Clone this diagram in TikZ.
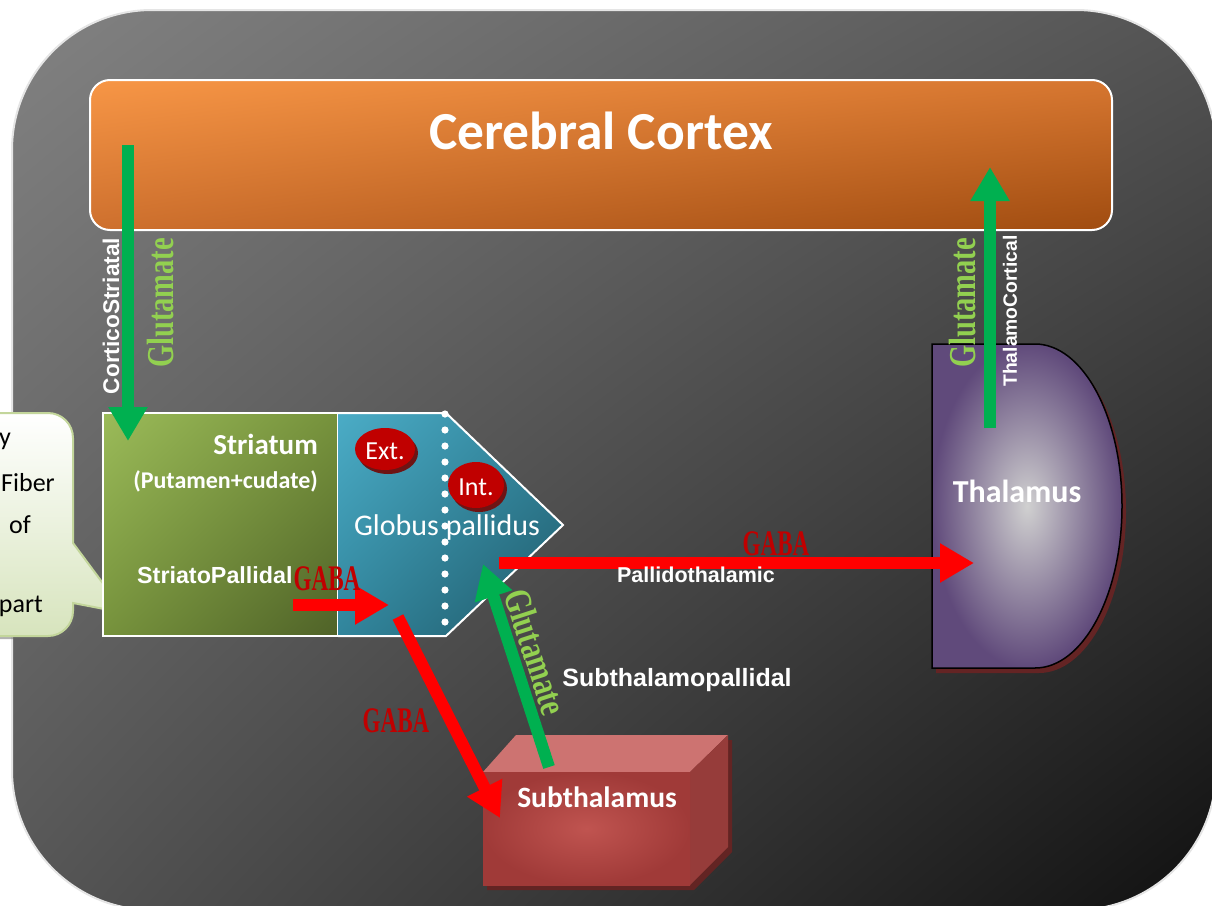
\documentclass[tikz,border=0pt]{standalone}
\usepackage{fontspec}
\setmainfont{Carlito}
\newfontfamily\arialfont{Liberation Sans}
\newfontfamily\timesfont{Liberation Serif}
\usetikzlibrary{arrows.meta,shadings}

\definecolor{glugreen}{HTML}{00B050}
\definecolor{glutext}{HTML}{92D050}
\definecolor{gabared}{HTML}{C00000}
\definecolor{arrred}{HTML}{FF0000}
\definecolor{bgA}{HTML}{828282}
\definecolor{bgB}{HTML}{545454}
\definecolor{bgC}{HTML}{565656}
\definecolor{bgD}{HTML}{101010}
\definecolor{ctxA}{HTML}{F79646}
\definecolor{ctxB}{HTML}{D67630}
\definecolor{ctxC}{HTML}{CE702E}
\definecolor{ctxD}{HTML}{A04C10}
\definecolor{strA}{HTML}{9BBB59}
\definecolor{strB}{HTML}{76923C}
\definecolor{strC}{HTML}{4F6228}
\definecolor{gpA}{HTML}{4BACC6}
\definecolor{gpB}{HTML}{31859C}
\definecolor{gpC}{HTML}{205867}
\definecolor{ovalshadow}{HTML}{6E1414}
\definecolor{thalshadow}{HTML}{642424}
\definecolor{thalin}{HTML}{D0D0D0}
\definecolor{thalout}{HTML}{604A7B}
\definecolor{stnshadow}{HTML}{632423}
\definecolor{stntop}{HTML}{CD7371}
\definecolor{stnside}{HTML}{963C3A}
\definecolor{stnin}{HTML}{C05450}
\definecolor{stnout}{HTML}{A03A38}
\definecolor{bubbleA}{HTML}{D7E4BD}
\definecolor{bubbleB}{HTML}{C3D69B}

\newcommand{\gabaword}{{\timesfont\bfseries\fontsize{36}{36}\selectfont\scalebox{0.64}[1]{GABA}}}
\newcommand{\gluword}{{\timesfont\bfseries\fontsize{38}{38}\selectfont\scalebox{0.75}[1]{Glutamate}}}

\begin{document}
\begin{tikzpicture}[x=1pt,y=-1pt,
    fat/.style={line width=12pt,-{Triangle[length=34pt,width=37pt]}},
    glu/.style={fat,draw=glugreen},
    inhib/.style={fat,draw=arrred},
    gabalbl/.style={text=gabared,inner sep=0pt},
    glulbl/.style={text=glutext,inner sep=0pt},
    tract/.style={text=white,inner sep=0pt,font=\arialfont\bfseries\fontsize{#1}{#1}\selectfont},
    region/.style={text=white,inner sep=0pt,font=\bfseries\fontsize{#1}{#1}\selectfont}]

    \useasboundingbox (0,0) rectangle (1212,905);
    \clip (0,0) rectangle (1212,905);

    % background panel
    \shade[upper left=bgA,upper right=bgB,lower left=bgC,lower right=bgD,rounded corners=140pt]
        (12,10) rectangle (1216,910);
    \draw[black!10,line width=2pt,rounded corners=140pt] (12,10) rectangle (1216,910);

    % cortex
    \shade[upper left=ctxA,upper right=ctxB,lower left=ctxC,lower right=ctxD,rounded corners=20pt]
        (90,80) rectangle (1112,230);
    \draw[white,line width=2pt,rounded corners=20pt] (90,80) rectangle (1112,230);
    \node[region=53.5] (cortex) at (601,131) {Cerebral Cortex};

    % callout
    \fill[black!60,opacity=0.5] (-27,416) -- (48,416) to[out=0,in=90] (76,441) -- (76,546) -- (128,616)
        -- (76,606) -- (76,614) to[out=-90,in=0] (51,639) -- (-27,639) -- cycle;
    \shade[top color=white,bottom color=bubbleA,draw=bubbleB,line width=2pt]
        (-30,413) -- (48,413) to[out=0,in=90] (73,438) -- (73,543) -- (125,613)
        -- (73,603) -- (73,611) to[out=-90,in=0] (48,636) -- (-30,636) -- cycle;
    \node[anchor=east,inner sep=0pt,font=\fontsize{26}{26}\selectfont] (c1) at (11,441) {y};
    \node[anchor=east,inner sep=0pt,font=\fontsize{26}{26}\selectfont] (c2) at (55,483) {Fiber};
    \node[anchor=east,inner sep=0pt,font=\fontsize{26}{26}\selectfont] (c3) at (31,525) {of};
    \node[anchor=east,inner sep=0pt,font=\fontsize{26}{26}\selectfont] (c4) at (43,606) {part};

    % striatum
    \shade[upper left=strA,upper right=strB,lower left=strB,lower right=strC]
        (103,413) rectangle (338,636);
    \draw[white,line width=2pt] (103,413) rectangle (338,636);
    \node[region=29,anchor=east] (str) at (318,444) {Striatum};
    \node[region=24,anchor=east] (put) at (318,481) {(Putamen+cudate)};

    % globus pallidus
    \shade[upper left=gpA,upper right=gpB,lower left=gpB,lower right=gpC]
        (338,413) -- (446,413) -- (563,525) -- (446,636) -- (338,636) -- cycle;
    \draw[white,line width=2pt] (338,413) -- (446,413) -- (563,525) -- (446,636) -- (338,636);
    \foreach \k in {0,...,13}
        \fill[white] (445,414+16*\k) circle (3.6pt);
    \fill[ovalshadow] (388,453) ellipse [x radius=30pt,y radius=21pt];
    \fill[gabared] (385,449) ellipse [x radius=30pt,y radius=21pt];
    \node[text=white,font=\fontsize{26}{26}\selectfont] (ext) at (385,451) {Ext.};
    \fill[ovalshadow] (479,489) ellipse [x radius=28pt,y radius=23pt];
    \fill[gabared] (476,485) ellipse [x radius=28pt,y radius=23pt];
    \node[text=white,font=\fontsize{26}{26}\selectfont] (int) at (476,487) {Int.};
    \node[text=white,inner sep=0pt,font=\fontsize{30}{30}\selectfont] (gp) at (447,527) {Globus\hspace{7pt}pallidus};

    % thalamus
    \fill[thalshadow] (936,349) -- (1039,349) .. controls (1087,349) and (1126,422) .. (1126,511)
        .. controls (1126,600) and (1087,673) .. (1039,673) -- (936,673) -- cycle;
    \shade[inner color=thalin,outer color=thalout,draw=black,line width=1.5pt]
        (932,344) -- (1035,344) .. controls (1083,344) and (1122,417) .. (1122,506)
        .. controls (1122,595) and (1083,668) .. (1035,668) -- (932,668) -- cycle;
    \node[region=32] (thal) at (1017,491) {Thalamus};

    % subthalamus
    \fill[stnshadow] (487,777) -- (520,740) -- (732,740) -- (732,852) -- (694,890) -- (487,890) -- cycle;
    \fill[stntop] (483,772) -- (516,735) -- (728,735) -- (690,772) -- cycle;
    \fill[stnside] (690,772) -- (728,735) -- (728,847) -- (690,885) -- cycle;
    \shade[inner color=stnin,outer color=stnout]
        (483,772) rectangle (690,885);
    \node[region=29.5] (sub) at (597,797) {Subthalamus};

    % arrow ends
    \coordinate (cs1) at (128,145);
    \coordinate (cs2) at (128,441);
    \coordinate (tc1) at (990,428);
    \coordinate (tc2) at (990,167);
    \coordinate (sp1) at (293,605);
    \coordinate (sp2) at (389,605);
    \coordinate (pt1) at (499,563);
    \coordinate (pt2) at (974,563);
    \coordinate (gs1) at (398,617);
    \coordinate (gs2) at (500,818);
    \coordinate (sg1) at (549,767);
    \coordinate (sg2) at (483,564);

    \draw[glu] (cs1) -- (cs2);
    \draw[glu] (tc1) -- (tc2);
    \draw[inhib] (sp1) -- (sp2);
    \draw[inhib] (pt1) -- (pt2);
    \draw[inhib] (gs1) -- (gs2);
    \draw[glu] (sg1) -- (sg2);

    % labels
    \node[tract=22.7,rotate=90] (l1) at (111,316) {CorticoStriatal};
    \node[glulbl,rotate=90] (l2) at (161,303) {\gluword};
    \node[glulbl,rotate=90] (l3) at (963,303) {\gluword};
    \node[tract=19.3,rotate=90] (l4) at (1010,311) {ThalamoCortical};
    \node[tract=23.3,anchor=west] (l5) at (137,575) {StriatoPallidal};
    \node[gabalbl] (l6) at (327,579) {\gabaword};
    \node[gabalbl] (l7) at (776,544) {\gabaword};
    \node[tract=21.5] (l8) at (696,575) {Pallidothalamic};
    \node[gabalbl] (l9) at (396,721) {\gabaword};
    \node[glulbl,rotate=-72] (l10) at (536,652) {\gluword};
    \node[tract=25] (l11) at (677,680) {Subthalamopallidal};
\end{tikzpicture}
\end{document}
